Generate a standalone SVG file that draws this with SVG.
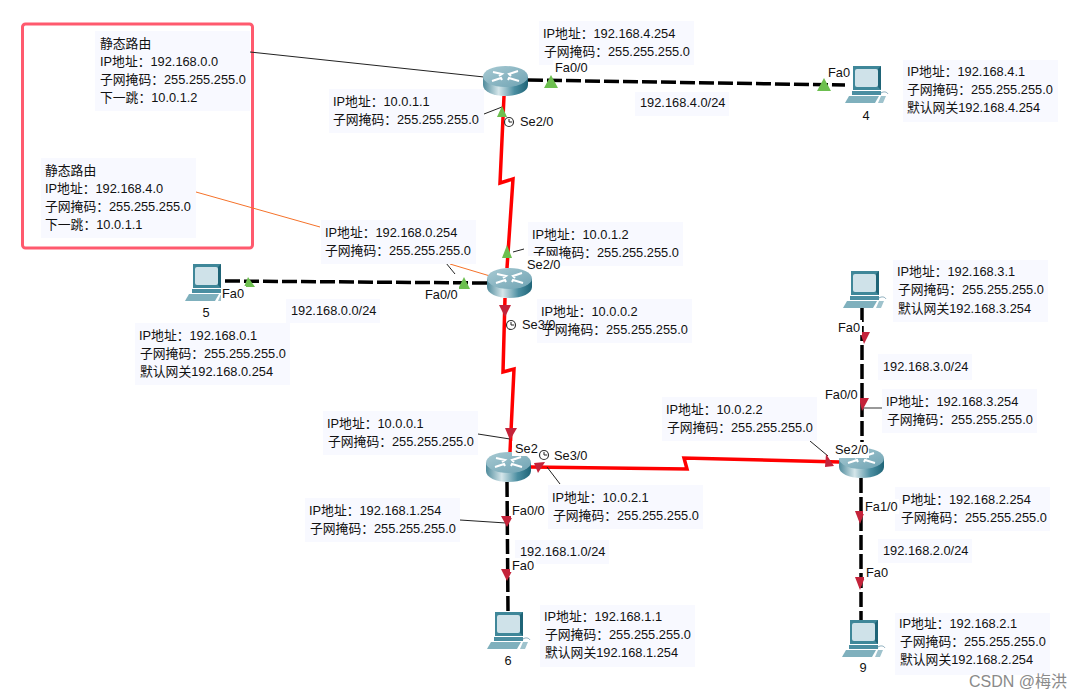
<svg xmlns="http://www.w3.org/2000/svg" width="1090" height="699" viewBox="0 0 1090 699">
<style>
text{font-family:"Liberation Sans","Noto Sans CJK SC",sans-serif;font-size:12.8px;fill:#111}
.bg{fill:#f8f9ff}.wb{fill:#fff}
.eth{fill:none;stroke:#000;stroke-width:3.5;stroke-dasharray:15 4}
.ser{fill:none;stroke:#f00;stroke-width:3.5}
.lead{fill:none;stroke:#222;stroke-width:1}
.org{fill:none;stroke:#f5722a;stroke-width:1}
.g{fill:#6cbf4f}.r{fill:#c4233a}
.clk{fill:#fff;stroke:#333;stroke-width:1.2}
.num{text-anchor:middle}
</style>
<defs>
<linearGradient id="rg" x1="0" x2="1" y1="0" y2="0"><stop offset="0" stop-color="#4f8b9c"/><stop offset=".35" stop-color="#d5e6ea"/><stop offset=".7" stop-color="#4b8ea1"/><stop offset="1" stop-color="#1f6477"/></linearGradient>
<linearGradient id="rt" x1="0" x2="1" y1="0" y2="1"><stop offset="0" stop-color="#a8cad3"/><stop offset="1" stop-color="#6fa3b3"/></linearGradient>
<symbol id="router" width="45" height="30" viewBox="0 0 45 30" overflow="visible">
<path d="M0 11V19C0 25.500 10 30 22.500 30S45 25.500 45 19V11Z" fill="url(#rg)"/>
<ellipse cx="22.500" cy="10.500" rx="22.500" ry="10.500" fill="url(#rt)"/>
<path d="M10 6l9 2-3 2M35 5l-9 3 2 2M9 15l9-3 1 2M36 15l-10-3-1 2" fill="none" stroke="#fff" stroke-width="2"/>
</symbol>
<symbol id="pc" width="43" height="37" viewBox="0 0 43 37" overflow="visible">
<path d="M8 0H36V24H8Z" fill="#3f8799"/><path d="M36 0l-3 3V21l3 3Z" fill="#1f6477"/>
<rect x="10" y="3" width="23" height="18" rx="2" fill="#cfe2e9"/>
<path d="M7 25H36V29H7Z" fill="#4b8ea1"/>
<path d="M4 30H34L30 37H0Z" fill="#7fb0bd"/>
<path d="M36 30h5l-3 7h-5Z" fill="#9fc3cd"/>
<path d="M36 27c3-2 6-1 7 1" fill="none" stroke="#8ab" stroke-width="1"/>
</symbol>
</defs>
<rect width="1090" height="699" fill="#fff"/>

<rect x="22.500" y="24" width="230" height="224" rx="3" fill="none" stroke="#ff5a6e" stroke-width="3"/>

<g id="connectors">
<path class="eth" d="M528 80L845 85"/>
<path class="eth" d="M225 281L487 283"/>
<path class="eth" d="M862 307L862 449"/>
<path class="eth" d="M861 478L861 620"/>
<path class="eth" d="M507 482L508 612"/>
<path class="ser" d="M504 96L500 183L513 179L507 268"/>
<path class="ser" d="M505 298L503 372L514 369L510 452"/>
<path class="ser" d="M530 467L687 469L684 458L840 462"/>
<path class="lead" d="M250 52L484 77"/>
<path class="org" d="M196 192L320 227"/>
<path class="org" d="M450 264L490 276"/>
<path class="lead" d="M446 263L455 274"/>
<path class="lead" d="M484 114L502 107"/>
<path class="lead" d="M524 249L513 252"/>
<path class="lead" d="M478 434L510 439"/>
<path class="lead" d="M547 467L560 484"/>
<path class="lead" d="M460 520L506 523"/>
<path class="lead" d="M810 441L828 456"/>
<path stroke="#777" stroke-width="1.500" d="M863 408H882"/>
</g>

<g id="node-r0"><use href="#router" x="483" y="66"/></g>
<g id="node-r1"><use href="#router" x="487" y="268"/></g>
<g id="node-r2"><use href="#router" x="486" y="452"/></g>
<g id="node-r3"><use href="#router" x="839" y="448"/></g>
<g id="node-pc4"><use href="#pc" x="845" y="66"/><text class="num" x="866" y="120">4</text></g>
<g id="node-pc5"><use href="#pc" x="185" y="264"/><text class="num" x="206" y="317">5</text></g>
<g id="node-pc7"><use href="#pc" x="843" y="271"/></g>
<g id="node-pc6"><use href="#pc" x="487" y="612"/><text class="num" x="508" y="665">6</text></g>
<g id="node-pc9"><use href="#pc" x="842" y="620"/><text class="num" x="863" y="672">9</text></g>

<g id="markers">
<path class="g" d="M551 75L544 88H558Z"/><path class="g" d="M824 78L817 91H831Z"/>
<path class="g" d="M502 106L497 117H507Z"/><path class="g" d="M507 245L502 258H512Z"/>
<path class="g" d="M464 277L458 289H470Z"/><path class="g" d="M248 277L244 287H255Z"/>
<path class="r" d="M499 305H511L505 317Z"/><path class="r" d="M505 428H517L510 440Z"/>
<path class="r" d="M534 463L545 462L538 473Z"/><path class="r" d="M501 516H513L507 527Z"/>
<path class="r" d="M501 569H513L507 581Z"/><path class="r" d="M826 454L834 466L825 467Z"/>
<path class="r" d="M860 332H870L864 344Z"/><path class="r" d="M859 398H869L862 411Z"/>
<path class="r" d="M855 511H865L860 524Z"/><path class="r" d="M855 577H865L860 590Z"/>
</g>

<g id="labels">
<rect class="bg" x="95" y="31" width="155" height="80"/><text x="100" y="48">静态路由</text><text x="100" y="66">IP地址：192.168.0.0</text><text x="100" y="84">子网掩码：255.255.255.0</text><text x="100" y="102">下一跳：10.0.1.2</text>
<rect class="bg" x="41" y="158" width="155" height="80"/><text x="45" y="175">静态路由</text><text x="45" y="193">IP地址：192.168.4.0</text><text x="45" y="211">子网掩码：255.255.255.0</text><text x="45" y="229">下一跳：10.0.1.1</text>
<rect class="bg" x="329" y="89" width="155" height="44"/><text x="333" y="106">IP地址：10.0.1.1</text><text x="333" y="124">子网掩码：255.255.255.0</text>
<rect class="bg" x="539" y="21" width="155" height="44"/><text x="543" y="38">IP地址：192.168.4.254</text><text x="544" y="56">子网掩码：255.255.255.0</text>
<rect class="bg" x="903" y="60" width="155" height="62"/><text x="907" y="76">IP地址：192.168.4.1</text><text x="907" y="94">子网掩码：255.255.255.0</text><text x="907" y="112">默认网关192.168.4.254</text>
<rect class="bg" x="635" y="92" width="94" height="24"/><text x="640" y="107">192.168.4.0/24</text>
<rect class="bg" x="321" y="220" width="155" height="44"/><text x="325" y="237">IP地址：192.168.0.254</text><text x="325" y="255">子网掩码：255.255.255.0</text>
<rect class="bg" x="528" y="222" width="155" height="44"/><text x="532" y="239">IP地址：10.0.1.2</text><text x="533" y="257">子网掩码：255.255.255.0</text>
<rect class="bg" x="286" y="299" width="94" height="24"/><text x="291" y="315">192.168.0.0/24</text>
<rect class="bg" x="135" y="323" width="155" height="62"/><text x="139" y="340">IP地址：192.168.0.1</text><text x="140" y="358">子网掩码：255.255.255.0</text><text x="140" y="376">默认网关192.168.0.254</text>
<rect class="bg" x="537" y="299" width="155" height="44"/><text x="541" y="316">IP地址：10.0.0.2</text><text x="542" y="334">子网掩码：255.255.255.0</text>
<rect class="bg" x="893" y="260" width="155" height="62"/><text x="897" y="276">IP地址：192.168.3.1</text><text x="898" y="294">子网掩码：255.255.255.0</text><text x="898" y="313">默认网关192.168.3.254</text>
<rect class="bg" x="878" y="354" width="94" height="26"/><text x="883" y="371">192.168.3.0/24</text>
<rect class="bg" x="882" y="389" width="155" height="44"/><text x="886" y="406">IP地址：192.168.3.254</text><text x="887" y="424">子网掩码：255.255.255.0</text>
<rect class="bg" x="323" y="411" width="155" height="44"/><text x="327" y="428">IP地址：10.0.0.1</text><text x="328" y="446">子网掩码：255.255.255.0</text>
<rect class="bg" x="662" y="397" width="155" height="44"/><text x="666" y="414">IP地址：10.0.2.2</text><text x="667" y="432">子网掩码：255.255.255.0</text>
<rect class="bg" x="548" y="485" width="155" height="44"/><text x="552" y="502">IP地址：10.0.2.1</text><text x="553" y="520">子网掩码：255.255.255.0</text>
<rect class="bg" x="305" y="498" width="155" height="44"/><text x="309" y="515">IP地址：192.168.1.254</text><text x="310" y="533">子网掩码：255.255.255.0</text>
<rect class="bg" x="895" y="487" width="155" height="44"/><text x="902" y="504">P地址：192.168.2.254</text><text x="901" y="522">子网掩码：255.255.255.0</text>
<rect class="bg" x="515" y="540" width="94" height="24"/><text x="520" y="556">192.168.1.0/24</text>
<rect class="bg" x="878" y="539" width="94" height="24"/><text x="883" y="555">192.168.2.0/24</text>
<rect class="bg" x="540" y="605" width="155" height="62"/><text x="544" y="621">IP地址：192.168.1.1</text><text x="545" y="639">子网掩码：255.255.255.0</text><text x="545" y="657">默认网关192.168.1.254</text>
<rect class="bg" x="895" y="613" width="155" height="62"/><text x="899" y="628">IP地址：192.168.2.1</text><text x="900" y="646">子网掩码：255.255.255.0</text><text x="900" y="664">默认网关192.168.2.254</text>
</g>

<g id="ports">
<rect class="wb" x="553" y="60" width="36" height="15"/><text x="555" y="72">Fa0/0</text>
<rect class="wb" x="826" y="65" width="25" height="15"/><text x="828" y="77">Fa0</text>
<circle class="clk" cx="509" cy="122" r="4.500"/><path class="lead" d="M509 119v3h3"/>
<text x="520" y="126">Se2/0</text>
<rect class="wb" x="525" y="256" width="36" height="15"/><text x="527" y="269">Se2/0</text>
<rect class="wb" x="423" y="287" width="36" height="15"/><text x="425" y="299">Fa0/0</text>
<rect class="wb" x="221" y="286" width="25" height="15"/><text x="222" y="298">Fa0</text>
<rect class="wb" x="519" y="318" width="18" height="15"/>
<circle class="clk" cx="511" cy="325" r="4.500"/><path class="lead" d="M511 322v3h3"/>
<text x="522" y="329">Se3/0</text>
<rect class="wb" x="837" y="320" width="25" height="15"/><text x="838" y="332">Fa0</text>
<rect class="wb" x="824" y="387" width="36" height="15"/><text x="825" y="399">Fa0/0</text>
<rect class="wb" x="833" y="442" width="36" height="16"/><text x="835" y="454">Se2/0</text>
<rect class="wb" x="512" y="441" width="26" height="15"/><text x="515" y="453">Se2</text>
<circle class="clk" cx="544" cy="455" r="4.500"/><path class="lead" d="M544 452v3h3"/>
<text x="554" y="460">Se3/0</text>
<rect class="wb" x="511" y="503" width="36" height="15"/><text x="512" y="515">Fa0/0</text>
<rect class="wb" x="510" y="558" width="26" height="14"/><text x="512" y="570">Fa0</text>
<rect class="wb" x="863" y="499" width="36" height="15"/><text x="865" y="511">Fa1/0</text>
<rect class="wb" x="864" y="565" width="25" height="14"/><text x="866" y="577">Fa0</text>
</g>
<text x="969" y="687" style="font-size:16px;fill:#8a8a8a">CSDN @梅洪</text>
</svg>
